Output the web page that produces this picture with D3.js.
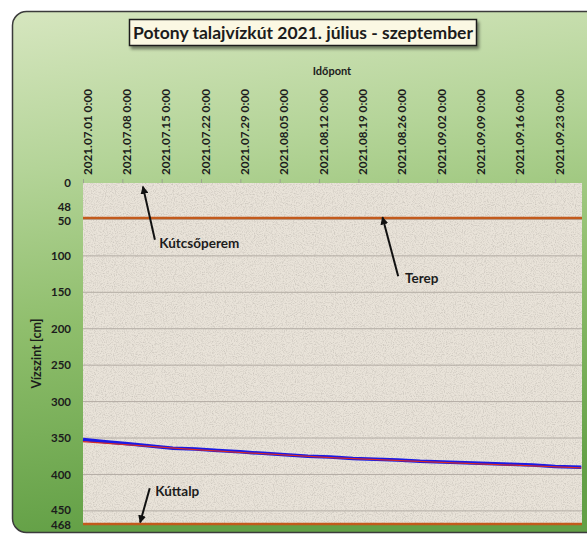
<!DOCTYPE html>
<html>
<head>
<meta charset="utf-8">
<script src="https://cdn.jsdelivr.net/npm/d3@7"></script>
<style>
  html, body { margin: 0; padding: 0; background: #fff; }
  svg text { font-family: Lato, "Open Sans", sans-serif; font-weight: bold; fill: #1c1c1c; }
</style>
</head>
<body>
<div id="chart"></div>
<script>
// DATA (days counted from 2021.07.01 0:00, values in cm below top of well pipe)
var startDate = new Date(2021, 6, 1);
var endDate = new Date(2021, 8, 27, 19);
var tickDates = d3.range(0, 13).map(function(i){ return d3.timeDay.offset(startDate, i * 7); });
var yTicks = [0, 48, 50, 100, 150, 200, 250, 300, 350, 400, 450, 468];
var gridValues = [50, 100, 150, 200, 250, 300, 350, 400, 450];

var measuredDays = [0, 4, 8, 12, 16, 20, 24, 28, 32, 36, 40, 44, 48, 52, 56, 60, 64, 68, 72, 76, 80, 84, 88.7];
var measuredValues = [352, 355, 358, 361, 364, 365, 367, 369, 371, 373, 375, 376, 378, 379, 380, 382, 383, 384, 385, 386, 387, 389, 390];

var trendDays = [0, 20, 44, 66, 88.7];
var trendValues = [355, 366, 377, 384, 391];

var terepLevel = 48;      // ground level
var bottomLevel = 468;    // well bottom

var annotations = [
  {label: "Kútcsőperem", tipDay: 10.7, tipVal: 5, tailDay: 12.8, tailVal: 78, textDay: 13.6, textVal: 83},
  {label: "Terep", tipDay: 53.3, tipVal: 47, tailDay: 56.1, tailVal: 128, textDay: 57.3, textVal: 131},
  {label: "Kúttalp", tipDay: 10.2, tipVal: 466, tailDay: 11.9, tailVal: 419, textDay: 12.9, textVal: 423}
];

// nudges for the crowded value labels (em)
var labelShift = {48: "-0.68em", 50: "0.47em", 450: "0.2em", 468: "0.42em"};

var W = 587, H = 535;
var plot = {left: 83, right: 582, top: 183, bottom: 524};

var svg = d3.select("#chart").append("svg").attr("width", W).attr("height", H);
var defs = svg.append("defs");

var bg = defs.append("linearGradient").attr("id", "bgGrad").attr("x1", 0).attr("y1", 0).attr("x2", 0.15).attr("y2", 1);
bg.append("stop").attr("offset", "0%").attr("stop-color", "#d6e6bf");
bg.append("stop").attr("offset", "30%").attr("stop-color", "#b4d498");
bg.append("stop").attr("offset", "60%").attr("stop-color", "#8fbe6c");
bg.append("stop").attr("offset", "100%").attr("stop-color", "#63a046");

var noise = defs.append("filter").attr("id", "sand").attr("x", 0).attr("y", 0).attr("width", 1).attr("height", 1);
noise.append("feTurbulence").attr("type", "fractalNoise").attr("baseFrequency", 0.9).attr("numOctaves", 2).attr("seed", 4).attr("result", "n");
noise.append("feColorMatrix").attr("in", "n").attr("type", "matrix")
  .attr("values", "0 0 0 0 0.45  0 0 0 0 0.42  0 0 0 0 0.38  -2.2 0 0 0 1.25")
  .attr("result", "specks");
noise.append("feComposite").attr("in", "specks").attr("in2", "SourceGraphic").attr("operator", "in");

var shadow = defs.append("filter").attr("id", "shadow").attr("x", "-10%").attr("y", "-30%").attr("width", "120%").attr("height", "170%");
shadow.append("feDropShadow").attr("dx", 2).attr("dy", 3).attr("stdDeviation", 1.5).attr("flood-color", "#000").attr("flood-opacity", 0.45);

defs.append("marker").attr("id", "arrow").attr("viewBox", "0 0 10 10")
  .attr("refX", 9).attr("refY", 5).attr("markerWidth", 4).attr("markerHeight", 4)
  .attr("orient", "auto")
  .append("path").attr("d", "M0,0L10,5L0,10z").attr("fill", "#111");

// chart background
svg.append("rect")
  .attr("x", 12.5).attr("y", 11.5).attr("width", 620).attr("height", 521)
  .attr("rx", 14)
  .attr("fill", "url(#bgGrad)")
  .attr("stroke", "#3b3b3b").attr("stroke-width", 1.5);

// scales
var x = d3.scaleTime().domain([startDate, endDate]).range([plot.left, plot.right]);
var y = d3.scaleLinear().domain([0, bottomLevel]).range([plot.top, plot.bottom]);
function dayX(d){ return x(d3.timeHour.offset(startDate, d * 24)); }

// plot area
svg.append("rect")
  .attr("x", plot.left).attr("y", plot.top)
  .attr("width", plot.right - plot.left).attr("height", plot.bottom - plot.top)
  .attr("fill", "#e9e3d9");
svg.append("rect")
  .attr("x", plot.left).attr("y", plot.top)
  .attr("width", plot.right - plot.left).attr("height", plot.bottom - plot.top)
  .attr("fill", "#e9e3d9")
  .attr("filter", "url(#sand)")
  .attr("opacity", 0.55);

// gridlines
svg.append("g").selectAll("line").data(gridValues).enter().append("line")
  .attr("x1", plot.left).attr("x2", plot.right)
  .attr("y1", function(d){ return y(d); }).attr("y2", function(d){ return y(d); })
  .attr("stroke", "#b3aca4").attr("stroke-width", 1);

// top time axis
var fmt = d3.timeFormat("%Y.%m.%d");
var xAxis = svg.append("g")
  .attr("transform", "translate(0," + plot.top + ")")
  .call(d3.axisTop(x).tickValues(tickDates).tickSize(4).tickFormat(function(d){ return fmt(d) + " 0:00"; }));
xAxis.select(".domain").remove();
xAxis.selectAll(".tick line").attr("stroke", "#9aa58e");
xAxis.selectAll(".tick text")
  .attr("transform", "rotate(-90)")
  .attr("x", 8).attr("y", 4).attr("dy", "0.35em")
  .style("text-anchor", "start")
  .style("font-size", "11.7px")
  .style("font-family", "Lato, sans-serif")
  .attr("fill", "#1c1c1c");

// left value axis
var yAxis = svg.append("g")
  .attr("transform", "translate(" + plot.left + ",0)")
  .call(d3.axisLeft(y).tickValues(yTicks).tickSize(0).tickPadding(12));
yAxis.select(".domain").remove();
yAxis.selectAll(".tick text")
  .style("font-size", "11.5px")
  .style("font-family", "Lato, sans-serif")
  .attr("fill", "#1c1c1c")
  .attr("dy", function(d){ return labelShift[d] || "0.32em"; });

// axis titles
svg.append("text").attr("x", 332).attr("y", 75)
  .attr("text-anchor", "middle").style("font-size", "11px").text("Időpont");
svg.append("text")
  .attr("transform", "translate(41," + ((plot.top + plot.bottom) / 2) + ") rotate(-90)")
  .attr("text-anchor", "middle").style("font-size", "12.5px").text("Vízszint [cm]");

// reference levels
svg.append("g").selectAll("line").data([terepLevel, bottomLevel]).enter().append("line")
  .attr("x1", plot.left).attr("x2", plot.right)
  .attr("y1", function(d){ return y(d); }).attr("y2", function(d){ return y(d); })
  .attr("stroke", "#c25a1c").attr("stroke-width", 2.5);

// series
var line = d3.line()
  .x(function(d){ return dayX(d[0]); })
  .y(function(d){ return y(d[1]); });

svg.append("path")
  .datum(d3.zip(measuredDays, measuredValues))
  .attr("d", line)
  .attr("fill", "none").attr("stroke", "#1a1ae6").attr("stroke-width", 3.5);

svg.append("path")
  .datum(d3.zip(trendDays, trendValues))
  .attr("d", line)
  .attr("fill", "none").attr("stroke", "#d42a2a").attr("stroke-width", 1.3);

// annotations
var ann = svg.append("g").selectAll("g").data(annotations).enter().append("g");
ann.append("line")
  .attr("x1", function(d){ return dayX(d.tailDay); }).attr("y1", function(d){ return y(d.tailVal); })
  .attr("x2", function(d){ return dayX(d.tipDay); }).attr("y2", function(d){ return y(d.tipVal); })
  .attr("stroke", "#111").attr("stroke-width", 2)
  .attr("marker-end", "url(#arrow)");
ann.append("text")
  .attr("x", function(d){ return dayX(d.textDay); })
  .attr("y", function(d){ return y(d.textVal); })
  .attr("dy", "0.35em")
  .style("font-size", "13.5px")
  .text(function(d){ return d.label; });

// title box
var title = svg.append("g");
title.append("rect")
  .attr("x", 129.5).attr("y", 19.5).attr("width", 347).attr("height", 26)
  .attr("fill", "#fbf8e3").attr("stroke", "#1e1e1e").attr("stroke-width", 1.5)
  .attr("filter", "url(#shadow)");
title.append("text")
  .attr("x", 303).attr("y", 38.5)
  .attr("text-anchor", "middle")
  .style("font-size", "17.5px")
  .text("Potony talajvízkút 2021. július - szeptember");
</script>
</body>
</html>
